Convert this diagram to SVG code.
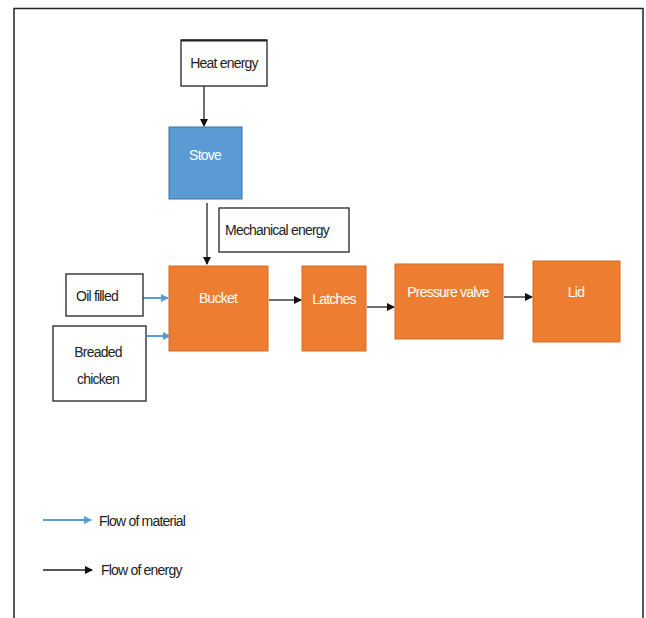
<svg xmlns="http://www.w3.org/2000/svg" width="646" height="618" viewBox="0 0 646 618">
<defs>
<style>
.box{fill:#fff;stroke:#222;stroke-width:1.3}
.proc{fill:#ED7D31;stroke:#d46b25;stroke-width:1}
.stove{fill:#5B9BD5;stroke:#41719C;stroke-width:1}
.t{font-family:"Liberation Sans",Arial,sans-serif;font-size:14px;letter-spacing:-0.8px;text-anchor:middle}
.dk{fill:#222}
.wh{fill:#fff}
.lg{text-anchor:start}
.en{stroke:#222;stroke-width:1.3;fill:none}
.ma{stroke:#5B9BD5;stroke-width:2;fill:none}
</style>
<marker id="ah" markerWidth="8" markerHeight="8" refX="7" refY="4" orient="auto" markerUnits="userSpaceOnUse">
<path d="M0,0 L8,4 L0,8 Z" fill="#111"/>
</marker>
<marker id="ab" markerWidth="8" markerHeight="8" refX="7" refY="4" orient="auto" markerUnits="userSpaceOnUse">
<path d="M0,0 L8,4 L0,8 Z" fill="#5B9BD5"/>
</marker>
</defs>
<rect width="646" height="618" fill="#fff"/>
<path d="M14,618 V8.5 H643 V618" fill="none" stroke="#222" stroke-width="1.5"/>

<g id="connectors">
<line class="en" x1="204" y1="86" x2="204" y2="126" marker-end="url(#ah)"/>
<line class="en" x1="207" y1="203" x2="207" y2="264" marker-end="url(#ah)"/>
<line class="en" x1="269" y1="300" x2="301" y2="300" marker-end="url(#ah)"/>
<line class="en" x1="367" y1="307" x2="394" y2="307" marker-end="url(#ah)"/>
<line class="en" x1="504" y1="297" x2="532" y2="297" marker-end="url(#ah)"/>
<line class="ma" x1="143" y1="298" x2="168" y2="298" marker-end="url(#ab)"/>
<line class="ma" x1="147" y1="336" x2="170" y2="336" marker-end="url(#ab)"/>
</g>

<g id="heat-energy">
<rect class="box" x="181" y="40" width="86" height="46"/>
<line x1="181" y1="40.5" x2="267" y2="40.5" stroke="#222" stroke-width="2"/>
<text class="t dk" x="224" y="68">Heat energy</text>
</g>
<g id="stove">
<rect class="stove" x="169" y="127" width="73" height="72"/>
<text class="t wh" x="205" y="160">Stove</text>
</g>
<g id="mechanical-energy">
<rect class="box" x="219" y="208" width="130" height="44"/>
<text class="t dk" x="277" y="235">Mechanical energy</text>
</g>
<g id="oil-filled">
<rect class="box" x="66" y="274" width="77" height="42"/>
<text class="t dk" x="97" y="301">Oil filled</text>
</g>
<g id="breaded-chicken">
<rect class="box" x="53" y="326" width="93" height="75"/>
<text class="t dk" x="98" y="357">Breaded</text>
<text class="t dk" x="98" y="384">chicken</text>
</g>
<g id="bucket">
<rect class="proc" x="169" y="266" width="99" height="85"/>
<text class="t wh" x="218" y="303">Bucket</text>
</g>
<g id="latches">
<rect class="proc" x="302" y="266" width="64" height="85"/>
<text class="t wh" x="334" y="304">Latches</text>
</g>
<g id="pressure-valve">
<rect class="proc" x="395" y="264" width="108" height="75"/>
<text class="t wh" x="448" y="297">Pressure valve</text>
</g>
<g id="lid">
<rect class="proc" x="533" y="261" width="87" height="81"/>
<text class="t wh" x="576" y="297">Lid</text>
</g>

<g id="legend">
<line class="ma" x1="43" y1="520" x2="91" y2="520" marker-end="url(#ab)"/>
<text class="t dk lg" x="99" y="526">Flow of material</text>
<line class="en" x1="43" y1="570" x2="92" y2="570" marker-end="url(#ah)"/>
<text class="t dk lg" x="101" y="575">Flow of energy</text>
</g>
</svg>
